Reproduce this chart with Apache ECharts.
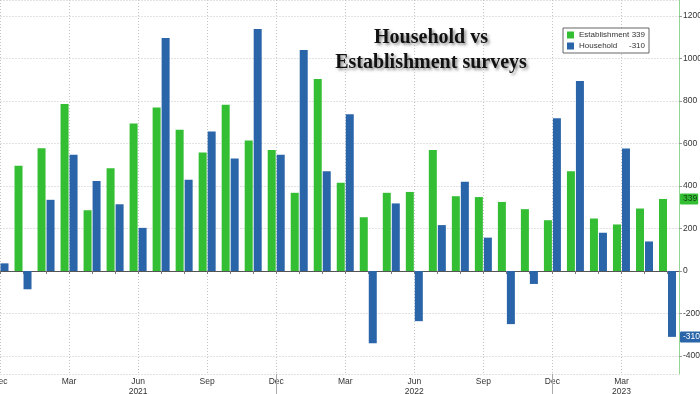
<!DOCTYPE html>
<html>
<head>
<meta charset="utf-8">
<script src="https://cdn.jsdelivr.net/npm/echarts@6/dist/echarts.min.js"></script>
<style>
html,body{margin:0;padding:0;background:#fff;}
#chart{width:700px;height:394px;}
</style>
</head>
<body>
<div id="chart"></div>
<script>
// Months (category labels), Dec 2020 .. May 2023
const months = ['Dec 2020','Jan 2021','Feb 2021','Mar 2021','Apr 2021','May 2021','Jun 2021','Jul 2021','Aug 2021','Sep 2021','Oct 2021','Nov 2021','Dec 2021',
  'Jan 2022','Feb 2022','Mar 2022','Apr 2022','May 2022','Jun 2022','Jul 2022','Aug 2022','Sep 2022','Oct 2022','Nov 2022','Dec 2022',
  'Jan 2023','Feb 2023','Mar 2023','Apr 2023','May 2023'];
// Establishment survey (thousands)
const establishment = [null,495,578,786,286,484,694,770,665,558,782,614,569,368,903,415,253,368,372,569,352,348,325,291,239,470,247,219,294,339];
// Household survey (thousands)
const household = [36,-86,335,547,423,314,203,1097,430,657,530,1139,547,1040,470,738,-340,318,-236,216,420,157,-250,-61,719,894,180,577,139,-310];
// Quarter tick labels on the x axis, years shown under selected ones
const quarterLabels = {'Dec 2020':'Dec','Mar 2021':'Mar','Jun 2021':'Jun\n2021','Sep 2021':'Sep','Dec 2021':'Dec',
  'Mar 2022':'Mar','Jun 2022':'Jun\n2022','Sep 2022':'Sep','Dec 2022':'Dec','Mar 2023':'Mar\n2023'};
const yearBreaks = ['Dec 2021','Dec 2022'];
const legendValues = {Establishment:'339', Household:'-310'};
const lastEst = 339, lastHh = -310;

const GREEN = '#34be34', BLUE = '#2a64a9';
const smallFont = "'Liberation Sans',Arial,sans-serif";

// half-month helper axis (for quarterly vertical grid lines at month centres)
const halfSteps = [];
for (let k = 0; k <= months.length * 2; k++) halfSteps.push('h' + k);

const chart = echarts.init(document.getElementById('chart'));

function tagMarkLine(value, bg, fg) {
  return {
    silent: true, symbol: 'none', animation: false, z: 10,
    lineStyle: {color: 'rgba(0,0,0,0)', width: 0, type: 'solid'},
    emphasis: {disabled: true},
    data: [{yAxis: value}],
    label: {show: true, position: 'end', distance: 1, formatter: String(value),
            backgroundColor: bg, color: fg, fontSize: 8.5, fontFamily: smallFont,
            padding: [1, 1, 1, 3], borderRadius: 1, opacity: 1}
  };
}

const option = {
  animation: false,
  backgroundColor: '#fff',
  grid: {left: -11.5, right: 21, top: 0, bottom: 20, containLabel: false, outerBoundsMode: 'none'},
  legend: {
    left: 563, top: 28, orient: 'vertical',
    itemWidth: 7, itemHeight: 7, itemGap: 3,
    padding: [3, 4, 3, 4],
    borderColor: '#666', borderWidth: 1, backgroundColor: '#fff',
    icon: 'rect',
    data: ['Establishment', 'Household'],
    formatter: name => `{n|${name}}{v|${legendValues[name]}}`,
    textStyle: {
      fontFamily: smallFont, fontSize: 8, color: '#333',
      rich: {n: {width: 50, fontFamily: smallFont, fontSize: 8, color: '#333'},
             v: {width: 16, align: 'right', fontFamily: smallFont, fontSize: 8, color: '#333'}}
    }
  },
  xAxis: [{
    type: 'category', data: months, boundaryGap: true,
    axisLine: {show: true, lineStyle: {color: '#555', width: 1}},
    axisTick: {show: true, interval: 0, alignWithLabel: true, length: 3, lineStyle: {color: '#777'}},
    splitLine: {show: false},
    axisLabel: {
      interval: 0, margin: 3, fontSize: 8.5, lineHeight: 10, color: '#333', fontFamily: smallFont,
      formatter: v => quarterLabels[v] !== undefined ? quarterLabels[v] : ''
    }
  }, {
    type: 'category', data: halfSteps, boundaryGap: false, position: 'bottom',
    axisLine: {show: false}, axisTick: {show: false}, axisLabel: {show: false},
    splitLine: {show: true, interval: (idx) => idx % 6 === 1,
                lineStyle: {color: '#c4c4c4', type: [1, 2], width: 1}}
  }],
  yAxis: {
    type: 'value', position: 'right',
    min: -484.7, max: 1275.3, minInterval: 200, maxInterval: 200,
    axisLine: {show: true, lineStyle: {color: '#93d593', width: 1}},
    axisTick: {show: true, length: 3, lineStyle: {color: '#999'}},
    axisLabel: {show: true, margin: 4, fontSize: 8.5, color: '#333', fontFamily: smallFont,
                showMinLabel: false, showMaxLabel: false, formatter: v => String(v)},
    splitLine: {show: true, lineStyle: {color: '#c4c4c4', type: [1, 2], width: 1}}
  },
  series: [{
    name: 'Establishment', type: 'bar', xAxisIndex: 0,
    barWidth: 8, barGap: '12.5%',
    itemStyle: {color: GREEN},
    data: establishment,
    markLine: tagMarkLine(lastEst, GREEN, '#0f3f0f')
  }, {
    name: 'Household', type: 'bar', xAxisIndex: 0,
    barWidth: 8, barGap: '12.5%',
    itemStyle: {color: BLUE},
    data: household,
    markLine: tagMarkLine(lastHh, BLUE, '#ffffff')
  }],
  graphic: [{
    type: 'text', x: 431, y: 50, z: 100,
    style: {
      text: 'Household vs\nEstablishment surveys',
      fontFamily: "'Liberation Serif','Times New Roman',serif",
      fontWeight: 'bold', fontSize: 20, lineHeight: 25,
      fill: '#111', align: 'center', verticalAlign: 'middle',
      textShadowColor: 'rgba(0,0,0,0.45)', textShadowBlur: 3,
      textShadowOffsetX: 2, textShadowOffsetY: 2
    }
  }]
};
chart.setOption(option);

// Year separators below the axis, placed through the axis scale
const bottomY = chart.convertToPixel({yAxisIndex: 0}, -484.7);
const sepGraphics = yearBreaks.map(m => {
  const x = Math.round(chart.convertToPixel({xAxisIndex: 0}, m)) + 0.5;
  return {type: 'line', z: 50, shape: {x1: x, y1: bottomY, x2: x, y2: bottomY + 20},
          style: {stroke: '#aaa', lineWidth: 1}};
});
chart.setOption({graphic: option.graphic.concat(sepGraphics)});
</script>
</body>
</html>
